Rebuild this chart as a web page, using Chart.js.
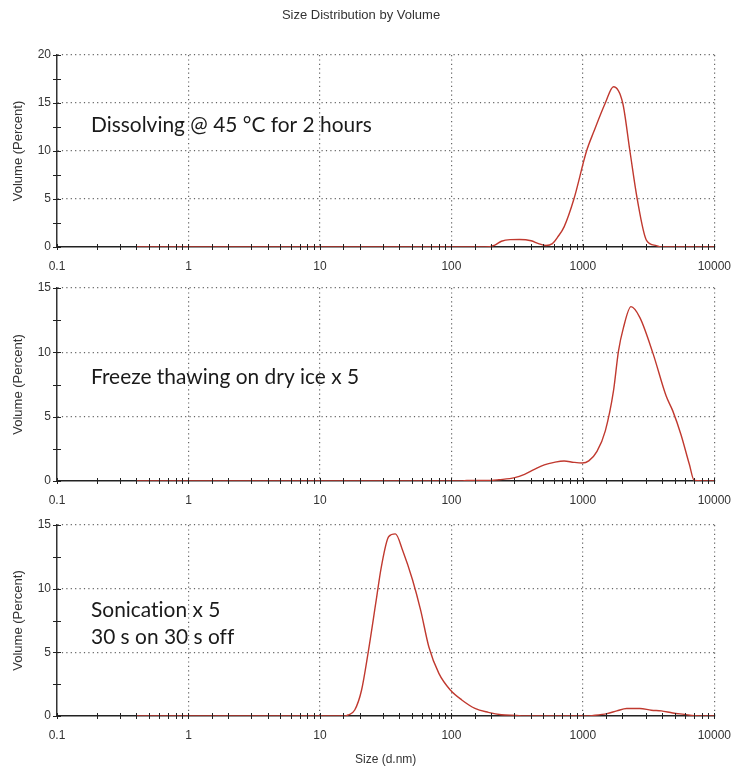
<!DOCTYPE html>
<html><head><meta charset="utf-8">
<script src="https://cdn.jsdelivr.net/npm/chart.js@4.4.1/dist/chart.umd.min.js"></script>
<style>
html,body{margin:0;padding:0;background:#fff;}
#wrap{position:relative;width:743px;height:769px;overflow:hidden;background:#fff;}
#wrap canvas{position:absolute;left:0;}
</style></head><body>
<div id="wrap">
<canvas id="c1" width="743" height="280" style="top:0px"></canvas>
<canvas id="c2" width="743" height="240" style="top:272px"></canvas>
<canvas id="c3" width="743" height="264" style="top:505px"></canvas>
</div>
<script>
// ---- data ----
const chartTitle = 'Size Distribution by Volume';
const xAxisTitle = 'Size (d.nm)';
const yAxisTitle = 'Volume (Percent)';
const xTickLabels = ['0.1', '1', '10', '100', '1000', '10000'];

const sizes1  = [0.4, 180, 214, 240, 280, 330, 404, 460, 524, 587, 641, 720, 855, 1067, 1210, 1482, 1710, 2010, 2280, 2592, 3050, 3620, 3900, 10000];
const volume1 = [0,   0,   0.2, 0.6, 0.77, 0.78, 0.65, 0.35, 0.15, 0.35, 1.0, 2.1, 5.0, 10.0, 12.0, 15.0, 16.7, 15.0, 10.0, 5.0, 0.7, 0.15, 0, 0];

const sizes2  = [0.4, 120, 131, 202, 230, 303, 360, 428, 509, 605, 720, 855, 989, 1109, 1281, 1482, 1710, 1866, 2034, 2324, 2716, 3420, 4303, 4830, 5580, 6457, 7035, 10000];
const volume2 = [0,   0,   0.05, 0.05, 0.1, 0.26, 0.52, 0.9, 1.25, 1.45, 1.56, 1.45, 1.4, 1.56, 2.3, 3.9, 7.0, 10.1, 11.9, 13.55, 12.7, 9.9, 6.6, 5.45, 3.6, 1.3, 0.05, 0];

const sizes3  = [0.4, 15.5, 16.4, 18.4, 20.7, 23.2, 26.8, 29.3, 33.4, 37.5, 42.6, 50.6, 58.4, 67.5, 80.3, 98.2, 120, 151, 191, 240, 312, 350, 1100, 1175, 1524, 1811, 2155, 2716, 3319, 3946, 4830, 5913, 7035, 10000];
const volume3 = [0,   0,    0.08, 0.47, 2.0,  4.9,  9.1,  11.7, 14.1, 14.3, 13.0, 10.7, 8.3,  5.4,  3.35, 2.04, 1.26, 0.6, 0.29, 0.1, 0.05, 0, 0, 0.03, 0.19, 0.4, 0.59, 0.59, 0.45, 0.4, 0.24, 0.13, 0.03, 0];

const yMaxes = [20, 15, 15];
const panelNotes = [
  ['Dissolving @ 45 °C for 2 hours'],
  ['Freeze thawing on dry ice x 5'],
  ['Sonication x 5', '30 s on 30 s off']
];
const noteY = [125, 105, 105];

// ---- styling / helpers ----
const AXIS_FONT = 'Liberation Sans, Arial, sans-serif';
const NOTE_FONT = 'Lato, "Open Sans", sans-serif';
const isDecade = v => { const l = Math.log10(v); return Math.abs(l - Math.round(l)) < 1e-9; };

let noteSize = 20;
(function () {
  const c = document.createElement('canvas').getContext('2d');
  c.font = '20px ' + NOTE_FONT;
  try { c.letterSpacing = '0.01px'; } catch (e) {}
  const w = c.measureText(panelNotes[0][0]).width;
  if (w > 0) noteSize = 20 * 281 / w;
})();

const tickMarks = {
  id: 'tickMarks',
  afterDraw(chart) {
    const { ctx, scales: { x, y }, chartArea: a } = chart;
    ctx.save();
    ctx.strokeStyle = '#222';
    ctx.lineWidth = 1;
    ctx.beginPath();
    x.ticks.forEach(t => {
      const px = Math.round(x.getPixelForValue(t.value)) + 0.5;
      ctx.moveTo(px, a.bottom - 3); ctx.lineTo(px, a.bottom + 3);
    });
    y.ticks.forEach(t => {
      const py = Math.round(y.getPixelForValue(t.value)) + 0.5;
      ctx.moveTo(a.left - 4, py); ctx.lineTo(a.left + 4, py);
    });
    ctx.stroke();
    ctx.restore();
  }
};

const notes = {
  id: 'notes',
  afterDraw(chart, args, o) {
    const { ctx, chartArea: a } = chart;
    ctx.save();
    ctx.font = noteSize.toFixed(2) + 'px ' + NOTE_FONT;
    try { ctx.letterSpacing = '0.01px'; } catch (e) {}
    ctx.fillStyle = '#1a1a1a';
    ctx.textBaseline = 'middle';
    ctx.textAlign = 'left';
    o.lines.forEach((l, i) => ctx.fillText(l, a.left + 34, o.y + i * 27));
    ctx.restore();
  }
};

function makeChart(id, sizes, vols, idx, cfg) {
  const points = sizes.map((s, i) => ({ x: s, y: vols[i] }));
  return new Chart(document.getElementById(id), {
    type: 'line',
    data: { datasets: [{
      data: points,
      borderColor: '#c0392f',
      borderWidth: 1.4,
      pointRadius: 0,
      fill: false,
      cubicInterpolationMode: 'monotone'
    }] },
    options: {
      responsive: false,
      animation: false,
      events: [],
      layout: { padding: { top: cfg.padTop, right: 21, left: 0, bottom: 0 } },
      plugins: {
        legend: { display: false },
        tooltip: { enabled: false },
        title: {
          display: !!cfg.showTitle,
          text: chartTitle,
          color: '#333',
          font: { family: AXIS_FONT, size: 13, weight: 'normal' },
          padding: { top: 8, bottom: 31.4 }
        },
        notes: { lines: panelNotes[idx], y: noteY[idx] }
      },
      scales: {
        x: {
          type: 'logarithmic',
          min: 0.1, max: 10000,
          afterFit: s => { s.height = cfg.xHeight; },
          grid: {
            drawTicks: false,
            lineWidth: 1.2,
            color: c => (c.tick && isDecade(c.tick.value) && c.tick.value > 0.11) ? '#666' : 'rgba(0,0,0,0)'
          },
          border: { display: true, color: '#222', width: 1.5, dash: [1.2, 3.2] },
          ticks: {
            autoSkip: false, maxRotation: 0, minRotation: 0,
            padding: 12,
            color: '#333',
            font: { family: AXIS_FONT, size: 12 },
            callback: v => isDecade(v) ? xTickLabels[Math.round(Math.log10(v)) + 1] : ''
          },
          title: {
            display: !!cfg.showXTitle,
            text: xAxisTitle,
            color: '#333',
            font: { family: AXIS_FONT, size: 12 },
            padding: { top: 0, bottom: 2 }
          }
        },
        y: {
          min: 0, max: yMaxes[idx],
          afterFit: s => { s.width = 57; },
          grid: {
            drawTicks: false,
            lineWidth: 1.2,
            color: c => (c.tick && c.tick.value > 0 && c.tick.value % 5 === 0) ? '#666' : 'rgba(0,0,0,0)'
          },
          border: { display: true, color: '#333', width: 1.5, dash: [1.2, 3.2] },
          ticks: {
            stepSize: 2.5,
            padding: 6,
            color: '#333',
            font: { family: AXIS_FONT, size: 12 },
            callback: v => (v % 5 === 0) ? String(v) : ''
          },
          title: {
            display: true,
            text: yAxisTitle,
            color: '#333',
            font: { family: AXIS_FONT, size: 13 },
            padding: { top: 11, bottom: 0 }
          }
        }
      }
    },
    plugins: [tickMarks, notes]
  });
}

makeChart('c1', sizes1, volume1, 0, { padTop: 0, showTitle: true, xHeight: 33 });
makeChart('c2', sizes2, volume2, 1, { padTop: 16, xHeight: 31 });
makeChart('c3', sizes3, volume3, 2, { padTop: 20, xHeight: 53, showXTitle: true });
</script>
</body></html>
